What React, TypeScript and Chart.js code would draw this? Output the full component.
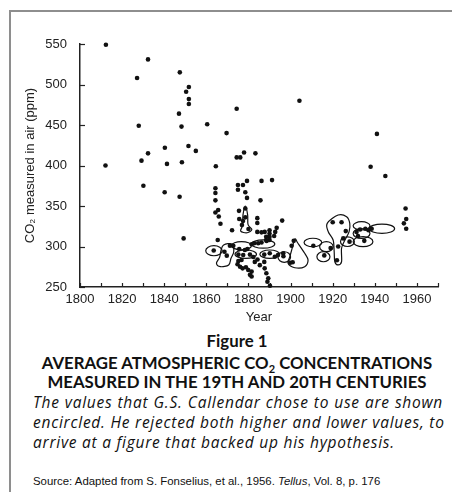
import React, { useEffect, useRef } from 'react';
import { Chart, registerables } from 'chart.js';

Chart.register(...registerables);

// ---- Axis values ----
const xLabelYears = [1800, 1820, 1840, 1860, 1880, 1900, 1920, 1940, 1960];
const xTickMarks = [1800, 1810, 1820, 1830, 1840, 1850, 1860, 1870, 1880, 1890, 1900, 1910, 1920, 1930, 1940, 1950, 1960, 1970];
const yTickValues = [250, 300, 350, 400, 450, 500, 550];

// ---- Measurements [year, ppm] ----
const highValues: [number, number][] = [
  [1812.3, 549], [1812.1, 400], [1827.1, 508], [1827.9, 449], [1829.2, 406], [1830.1, 375],
  [1832.3, 531], [1832.3, 415], [1840.3, 422], [1841.3, 402], [1840.2, 367], [1847.4, 515],
  [1847.0, 464], [1848.2, 448], [1848.4, 404], [1847.3, 361.5], [1849.2, 310], [1850.4, 491],
  [1851.7, 497], [1851.7, 482], [1851.7, 476], [1851.5, 424], [1855.0, 418], [1860.4, 559],
  [1860.4, 451], [1864.5, 399], [1866.7, 555], [1869.6, 440], [1874.4, 470], [1874.4, 410],
  [1876.1, 410], [1877.9, 416], [1883.3, 415], [1886.2, 381], [1891.2, 382], [1904.2, 480],
  [1941.0, 439], [1938.0, 398.5], [1945.0, 387],
];

const midValues: [number, number][] = [
  [1864.3, 372], [1864.3, 366], [1864.3, 357], [1864.3, 342], [1865.6, 345], [1865.9, 337],
  [1866.7, 328], [1865.4, 308], [1872.2, 320], [1875.0, 376], [1877.4, 376], [1879.3, 381],
  [1875.0, 370], [1878.5, 367], [1879.3, 360], [1885.7, 357], [1875.5, 344], [1875.6, 334],
  [1877.4, 331.5], [1876.9, 326.5], [1878.5, 347], [1878.5, 336], [1880.0, 321.6], [1884.2, 335],
  [1884.2, 329], [1884.2, 318], [1886.2, 317.5], [1887.7, 318], [1890.0, 320], [1890.0, 316],
  [1890.0, 312], [1890.0, 308], [1888.4, 312], [1888.4, 308], [1893.4, 323], [1892.7, 318],
  [1892.2, 313], [1896.0, 332],
];

const clusterValues: [number, number][] = [
  [1863.5, 295], [1868.6, 293.6], [1869.7, 288.7], [1871.2, 301], [1872.8, 301], [1875.6, 297],
  [1878.3, 295.7], [1879.5, 297], [1881.5, 302.7], [1882.7, 304], [1884.6, 304], [1886.2, 305],
  [1888.6, 306.8], [1875.2, 290], [1877.5, 289.5], [1880.7, 290], [1882.3, 287], [1887.5, 290],
  [1890.1, 291.6], [1892.5, 287.4], [1894.0, 289.5], [1896.5, 291.6], [1900.5, 301], [1901.5, 307],
  [1899.8, 280], [1896.6, 288], [1901.0, 280.5], [1874.8, 278], [1876.0, 275], [1877.2, 273],
  [1878.8, 274.3], [1879.9, 271], [1881.5, 269], [1880.7, 265], [1881.5, 263], [1875.2, 282],
  [1876.7, 283.3], [1883.0, 281], [1884.3, 284], [1885.4, 277], [1887.7, 273], [1888.5, 267],
  [1889.4, 260.7], [1889.0, 256.5], [1890.2, 251.6], [1887.5, 281],
];

const twentiethValues: [number, number][] = [
  [1910.8, 301], [1916.0, 289], [1919.0, 298], [1920.0, 330], [1924.2, 330], [1926.2, 319],
  [1925.0, 310], [1922.6, 300], [1922.0, 283], [1928.0, 306], [1931.3, 318], [1932.0, 313],
  [1935.0, 307], [1933.0, 321], [1935.5, 322], [1937.0, 320], [1938.5, 322],
  [1954.6, 347], [1954.9, 334], [1953.8, 328.6], [1954.9, 322],
];

// ---- Encircled (chosen) values: ellipses [centre year, centre ppm, half-width years, half-height ppm] ----
const encircledEllipses: [number, number, number, number][] = [
  [1863.6, 294.8, 3.9, 6.2],
  [1876.7, 301, 4.7, 5.1],
  [1878.7, 290.5, 5.1, 5.2],
  [1887.0, 303, 5.5, 5.1],
  [1890.1, 290.5, 4.7, 5.2],
  [1897.0, 287, 3.0, 6.5],
  [1910.6, 305, 4.2, 5.2],
  [1917.0, 299.8, 3.2, 6.2],
  [1915.6, 287.4, 3.1, 6.2],
  [1927.0, 306, 3.3, 6],
  [1934.4, 306, 4.7, 6.2],
  [1933.7, 316, 4.0, 6],
  [1933.7, 325.5, 4.0, 5.1],
  [1943.4, 322, 6.0, 5.7],
];

// ---- Encircled irregular outlines [year, ppm] ----
const kidneyOutline: [number, number][] = [
  [1868.2, 301.9], [1872.2, 303.1], [1873.0, 293.6], [1871.7, 285.4], [1870.6, 277.2],
  [1866.7, 275.1], [1864.8, 279.3], [1866.3, 286.7], [1867.0, 295.7],
];
const blobOutline: [number, number][] = [
  [1902.0, 309.3], [1903.5, 304], [1906.7, 291.6], [1908.3, 283.3], [1906.7, 275.1],
  [1902.0, 273.8], [1898.8, 279.3], [1899.6, 287], [1900.7, 297.3],
];
const loopOutline: [number, number][] = [
  [1878.5, 350], [1879.6, 339], [1879.8, 327], [1881.6, 321], [1879.4, 317],
  [1876.3, 319], [1877.2, 326], [1877.4, 339],
];
const teardropOutline: [number, number][] = [
  [1922.6, 338.9], [1926.6, 336.8], [1928.1, 328.6], [1927.8, 318.3], [1925.8, 308],
  [1924.2, 297.8], [1924.2, 281.2], [1922.6, 277.2], [1921.0, 281.2], [1920.7, 293.6],
  [1920.2, 308], [1917.9, 318.3], [1917.4, 328.6],
];
const encircledOutlines = [kidneyOutline, blobOutline, loopOutline, teardropOutline];

const allValues = [...highValues, ...midValues, ...clusterValues, ...twentiethValues];

const decorPlugin = {
  id: 'decor',
  beforeDatasetsDraw(chart: any) {
    const { ctx, scales, chartArea } = chart;
    const x = scales.x;
    const y = scales.y;
    ctx.save();
    ctx.strokeStyle = '#111';
    ctx.lineWidth = 1.2;
    for (const [cx, cy, rx, ry] of encircledEllipses) {
      const px = x.getPixelForValue(cx);
      const py = y.getPixelForValue(cy);
      const rpx = Math.abs(x.getPixelForValue(cx + rx) - px);
      const rpy = Math.abs(y.getPixelForValue(cy + ry) - py);
      ctx.beginPath();
      ctx.ellipse(px, py, rpx, rpy, 0, 0, Math.PI * 2);
      ctx.stroke();
    }
    for (const outline of encircledOutlines) {
      const pts = outline.map(([a, b]) => [x.getPixelForValue(a), y.getPixelForValue(b)]);
      const n = pts.length;
      ctx.beginPath();
      ctx.moveTo(pts[0][0], pts[0][1]);
      for (let i = 0; i < n; i++) {
        const p0 = pts[(i - 1 + n) % n];
        const p1 = pts[i];
        const p2 = pts[(i + 1) % n];
        const p3 = pts[(i + 2) % n];
        ctx.bezierCurveTo(
          p1[0] + (p2[0] - p0[0]) / 6, p1[1] + (p2[1] - p0[1]) / 6,
          p2[0] - (p3[0] - p1[0]) / 6, p2[1] - (p3[1] - p1[1]) / 6,
          p2[0], p2[1]
        );
      }
      ctx.closePath();
      ctx.stroke();
    }
    // inward tick marks
    ctx.strokeStyle = '#222';
    ctx.lineWidth = 1.2;
    const { left, bottom } = chartArea;
    for (const v of yTickValues) {
      const py = Math.round(y.getPixelForValue(v)) + 0.5;
      ctx.beginPath();
      ctx.moveTo(left, py);
      ctx.lineTo(left + 5, py);
      ctx.stroke();
    }
    for (const v of xTickMarks) {
      const px = Math.round(x.getPixelForValue(v)) + 0.5;
      ctx.beginPath();
      ctx.moveTo(px, bottom);
      ctx.lineTo(px, bottom - 4);
      ctx.stroke();
    }
    ctx.restore();
  },
};

const axisFont = { family: '"Liberation Sans", Arial, sans-serif', size: 13 };

function CO2Chart() {
  const ref = useRef<HTMLCanvasElement | null>(null);
  useEffect(() => {
    if (!ref.current) return;
    const chart = new Chart(ref.current, {
      type: 'scatter',
      data: {
        datasets: [
          {
            data: allValues.map(([a, b]) => ({ x: a, y: b })),
            pointRadius: 2.3,
            pointHoverRadius: 2.3,
            pointBackgroundColor: '#111',
            pointBorderWidth: 0,
            clip: false as any,
          },
        ],
      },
      options: {
        animation: false,
        responsive: false,
        events: [],
        layout: { padding: { top: 44, right: 14, left: 0, bottom: 0 } },
        plugins: { legend: { display: false }, tooltip: { enabled: false } },
        scales: {
          x: {
            type: 'linear',
            min: 1800,
            max: 1970,
            afterBuildTicks: (s: any) => {
              s.ticks = xLabelYears.map((v) => ({ value: v }));
            },
            afterFit: (s: any) => {
              s.height = 40;
            },
            grid: { display: true, drawOnChartArea: false, drawTicks: false },
            border: { display: true, color: '#222', width: 1.5 },
            ticks: {
              autoSkip: false,
              maxRotation: 0,
              padding: 5,
              color: '#222',
              font: axisFont,
              callback: (v: any) => String(v),
            },
            title: { display: true, text: 'Year', color: '#222', font: axisFont, padding: { top: 0, bottom: 2 } },
          },
          y: {
            type: 'linear',
            min: 250,
            max: 550,
            afterBuildTicks: (s: any) => {
              s.ticks = yTickValues.map((v) => ({ value: v }));
            },
            afterFit: (s: any) => {
              s.width = 80;
            },
            grid: { display: true, drawOnChartArea: false, drawTicks: false },
            border: { display: true, color: '#222', width: 1.5 },
            ticks: {
              padding: 13,
              color: '#222',
              font: axisFont,
              callback: (v: any) => String(v),
            },
            title: {
              display: true,
              text: 'CO\u2082 measured in air (ppm)',
              color: '#222',
              font: axisFont,
              padding: { top: 23, bottom: 0 },
            },
          },
        },
      },
      plugins: [decorPlugin],
    } as any);
    return () => chart.destroy();
  }, []);
  return <canvas ref={ref} width={452} height={327} style={{ width: 452, height: 327, display: 'block' }} />;
}

const lato = 'Lato, "Open Sans", sans-serif';
const italicFont = '"Open Sans", Lato, sans-serif';

export default function App() {
  return (
    <div style={{ position: 'absolute', left: 0, top: 0, width: 452, height: 492, overflow: 'hidden', background: '#fff' }}>
      <div
        style={{
          position: 'absolute',
          left: 9,
          top: 10,
          width: 520,
          height: 520,
          borderLeft: '2px solid #8e8e8e',
          borderTop: '2px solid #8e8e8e',
        }}
      />
      <div style={{ position: 'absolute', left: 0, top: 0 }}>
        <CO2Chart />
      </div>
      <div style={{ position: 'absolute', left: 0, width: 474, top: 332.5, textAlign: 'center', fontFamily: lato, fontWeight: 700, fontSize: 16.8, lineHeight: '16px', color: '#111' }}>
        Figure 1
      </div>
      <div style={{ position: 'absolute', left: 0, width: 474, top: 354.5, textAlign: 'center', fontFamily: lato, fontWeight: 700, fontSize: 16.8, lineHeight: '16px', color: '#111', whiteSpace: 'nowrap' }}>
        AVERAGE ATMOSPHERIC CO<sub style={{ fontSize: 11, lineHeight: 0 }}>2</sub> CONCENTRATIONS
      </div>
      <div style={{ position: 'absolute', left: 0, width: 474, top: 373.5, textAlign: 'center', fontFamily: lato, fontWeight: 700, fontSize: 16.8, lineHeight: '16px', color: '#111', whiteSpace: 'nowrap' }}>
        MEASURED IN THE 19TH AND 20TH CENTURIES
      </div>
      <div style={{ position: 'absolute', left: 33, width: 410, top: 391.7, fontFamily: italicFont, fontStyle: 'italic', fontSize: 15.5, letterSpacing: '0.75px', lineHeight: '20px', color: '#111' }}>
        <div style={{ textAlign: 'justify', textAlignLast: 'justify' as any, whiteSpace: 'nowrap' }}>The values that G.S. Callendar chose to use are shown</div>
        <div style={{ textAlign: 'justify', textAlignLast: 'justify' as any, whiteSpace: 'nowrap' }}>encircled. He rejected both higher and lower values, to</div>
        <div style={{ whiteSpace: 'nowrap' }}>arrive at a figure that backed up his hypothesis.</div>
      </div>
      <div style={{ position: 'absolute', left: 33, top: 475.5, fontFamily: '"Liberation Sans", Arial, sans-serif', fontSize: 11.4, lineHeight: '11px', color: '#111', whiteSpace: 'nowrap' }}>
        Source: Adapted from S. Fonselius, et al., 1956. <i>Tellus</i>, Vol. 8, p. 176
      </div>
    </div>
  );
}
